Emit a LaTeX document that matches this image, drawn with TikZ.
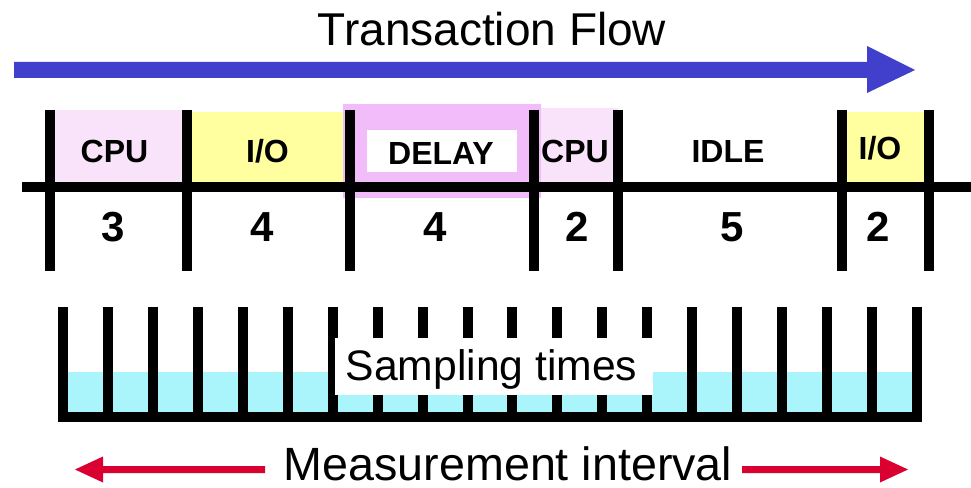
\documentclass[tikz,border=0pt]{standalone}
\usepackage{fontspec}
\setmainfont{Liberation Sans}
\definecolor{flowblue}{RGB}{64,64,204}
\definecolor{cpupink}{RGB}{249,227,251}
\definecolor{ioyellow}{RGB}{255,255,160}
\definecolor{delaymag}{RGB}{242,187,249}
\definecolor{samplecyan}{RGB}{170,244,252}
\definecolor{measred}{RGB}{218,0,48}
\begin{document}
\begin{tikzpicture}[x=0.75pt,y=-0.75pt,
  bar/.style={line width=7.5pt,black},
  lbl/.style={anchor=base,inner sep=0pt,font=\fontsize{24pt}{28pt}\selectfont\bfseries},
  num/.style={anchor=base,inner sep=0pt,font=\fontsize{31.5pt}{36pt}\selectfont\bfseries},
  big/.style={anchor=base,inner sep=0pt,font=\fontsize{34.5pt}{40pt}\selectfont}]
\useasboundingbox (0,0) rectangle (971,488);
\fill[white] (0,0) rectangle (971,488);
% title and flow arrow
\node[big] (title) at (492,46) {Transaction Flow};
\fill[flowblue] (14,62) -- (867,62) -- (867,46) -- (915,70) -- (867,93) -- (867,78) -- (14,78) -- cycle;
% state fills
\fill[cpupink] (50,110) rectangle (187,187);
\fill[ioyellow] (187,112) rectangle (350,187);
\fill[cpupink] (534,108) rectangle (618,187);
\fill[delaymag] (343,104) rectangle (541,198);
\fill[white] (367,130) rectangle (517,172);
\fill[ioyellow] (842,112) rectangle (929,187);
% timeline
\draw[bar] (22,187) -- (971,187);
\foreach \x in {50,187,350,534,618,842,929}
  \draw[bar] (\x,110) -- (\x,271);
% labels
\node[lbl] (cpuA) at (114.5,163) {CPU};
\node[lbl] (ioA) at (267.5,163) {I/O};
\node[lbl] (delay) at (441,165) {DELAY};
\node[lbl] (cpuB) at (575,163) {CPU};
\node[lbl] (idle) at (728,163) {IDLE};
\node[lbl] (ioB) at (880,160) {I/O};
\node[num] (nA) at (113,242) {3};
\node[num] (nB) at (262,242) {4};
\node[num] (nC) at (435,242) {4};
\node[num] (nD) at (577.5,242) {2};
\node[num] (nE) at (732.5,242) {5};
\node[num] (nF) at (878,242) {2};
% sampling
\fill[samplecyan] (63,372) rectangle (917,417);
\foreach \i in {0,...,19}
  \draw[bar] ({63+\i*44.947},307) -- ({63+\i*44.947},417);
\draw[bar] (58,417) -- (922,417);
\fill[white] (335,338) rectangle (653,395);
\node[anchor=base,inner sep=0pt,font=\fontsize{32pt}{38pt}\selectfont] (samp) at (491.5,380) {Sampling times};
% measurement interval
\node[big,font=\fontsize{35pt}{40pt}\selectfont] (meas) at (508,480) {Measurement interval};
\fill[measred] (265,466) -- (103,466) -- (103,456.5) -- (75,469.5) -- (103,482.5) -- (103,473) -- (265,473) -- cycle;
\fill[measred] (742,466) -- (880,466) -- (880,456.5) -- (908,469.5) -- (880,482.5) -- (880,473) -- (742,473) -- cycle;
\end{tikzpicture}
\end{document}
